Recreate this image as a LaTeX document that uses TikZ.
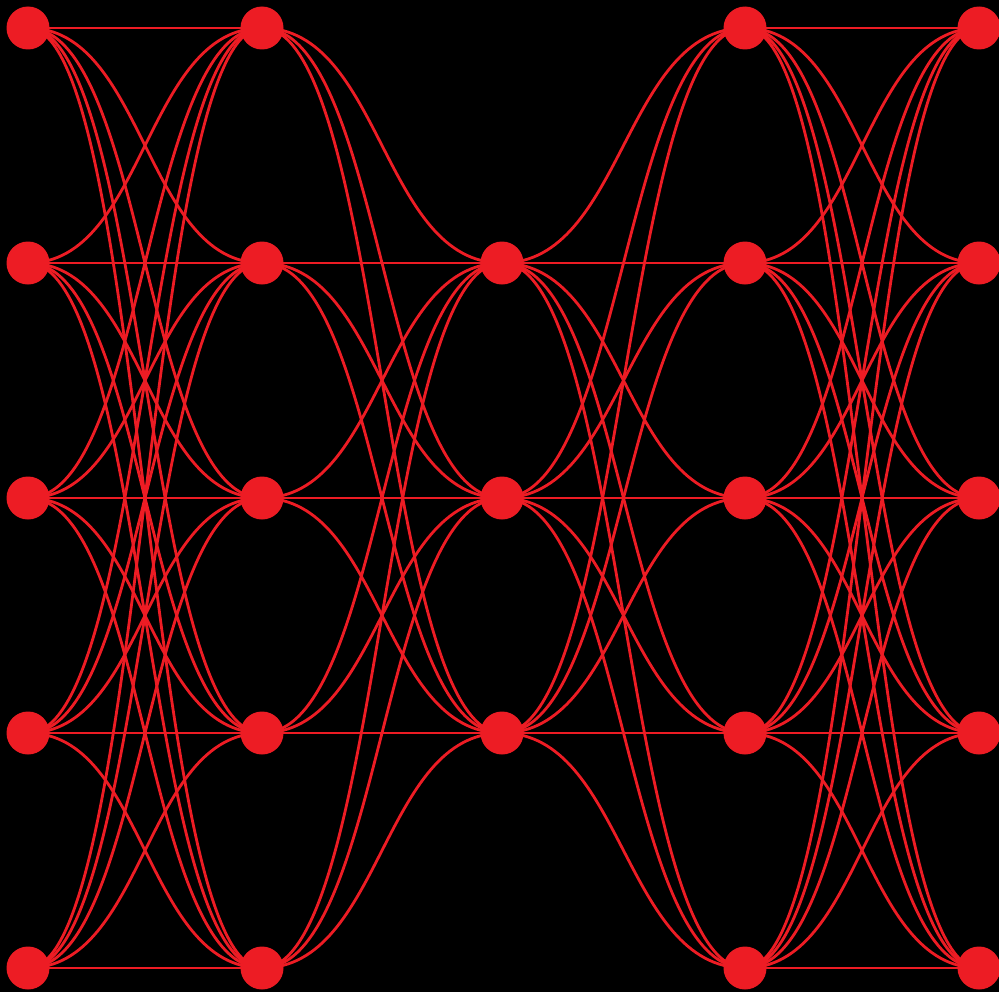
\documentclass[tikz,border=0pt]{standalone}
\usepackage{xcolor}
\definecolor{netred}{RGB}{237,28,36}
\usepackage{tikz}
\pgfdeclarelayer{background}
\pgfsetlayers{background,main}

\begin{document}
\begin{tikzpicture}[
  neuron/.style={circle, fill=netred, inner sep=0pt, minimum size=0.43cm},
  link/.style={draw=netred, line width=0.8pt}
]

% Background
\begin{pgfonlayer}{background}
  \fill[black] (0,0) rectangle (9.99,9.92);
\end{pgfonlayer}
\useasboundingbox (0,0) rectangle (9.99,9.92);

% Neurons
\foreach \i/\y in {1/9.64, 2/7.29, 3/4.94, 4/2.59, 5/0.24} {
  \node[neuron] (a\i) at (0.28,\y) {};
  \node[neuron] (b\i) at (2.62,\y) {};
  \node[neuron] (d\i) at (7.45,\y) {};
  \node[neuron] (e\i) at (9.79,\y) {};
}
\node[neuron] (c1) at (5.02,7.29) {};
\node[neuron] (c2) at (5.02,4.94) {};
\node[neuron] (c3) at (5.02,2.59) {};

% Links (behind the neurons)
\begin{pgfonlayer}{background}
\foreach \i in {1,...,5}
  \foreach \j in {1,...,5} {
    \draw[link] (a\i.center) .. controls +(1.17,0) and +(-1.17,0) .. (b\j.center);
    \draw[link] (d\i.center) .. controls +(1.17,0) and +(-1.17,0) .. (e\j.center);
  }
\foreach \i in {1,...,5}
  \foreach \j in {1,2,3} {
    \draw[link] (b\i.center) .. controls +(1.2,0) and +(-1.2,0) .. (c\j.center);
    \draw[link] (c\j.center) .. controls +(1.215,0) and +(-1.215,0) .. (d\i.center);
  }
\end{pgfonlayer}

\end{tikzpicture}
\end{document}
